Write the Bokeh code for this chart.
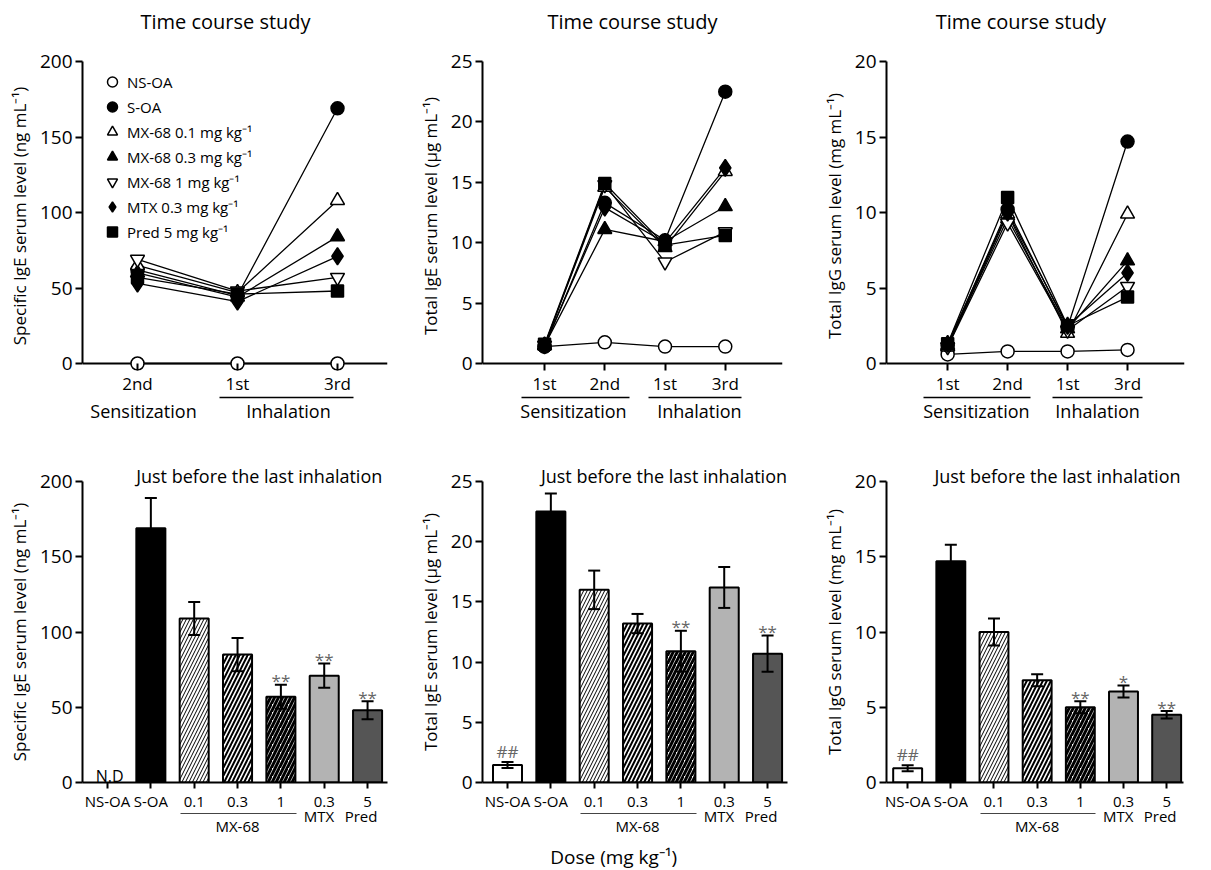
from bokeh.plotting import figure
from bokeh.models import (FixedTicker, Span, Label, Whisker, TeeHead, ColumnDataSource,
                          Range1d, LinearAxis)
from bokeh.layouts import column, row
from bokeh.core.properties import value
from bokeh.embed import file_html
from bokeh.resources import INLINE

FONT = "Open Sans"
NAN = float("nan")

# ---------------- data ----------------
SPEC_STAGES = ["2nd", "1st", "3rd"]
TOTAL_STAGES = ["1st", "2nd", "1st", "3rd"]

GROUP_NAMES = ["NS-OA", "S-OA", "MX-68 0.1 mg kg⁻¹", "MX-68 0.3 mg kg⁻¹",
               "MX-68 1 mg kg⁻¹", "MTX 0.3 mg kg⁻¹", "Pred 5 mg kg⁻¹"]

# Specific IgE (ng/mL) time course
SPEC_NS = [0, 0, 0]
SPEC_S = [62, 45, 169]
SPEC_MX01 = [65, 47, 108]
SPEC_MX03 = [60, 44, 84]
SPEC_MX1 = [69, 48, 57]
SPEC_MTX = [53, 41, 71]
SPEC_PRED = [57, 46, 48]

# Total IgE (ug/mL) time course
IGE_NS = [1.4, 1.75, 1.4, 1.4]
IGE_S = [1.4, 13.3, 10.2, 22.5]
IGE_MX01 = [1.5, 14.6, 9.6, 15.9]
IGE_MX03 = [1.5, 11.1, 10.1, 13.0]
IGE_MX1 = [1.5, 14.8, 8.4, 10.9]
IGE_MTX = [1.5, 12.9, 10.0, 16.2]
IGE_PRED = [1.6, 14.9, 9.8, 10.6]

# Total IgG (mg/mL) time course
IGG_NS = [0.6, 0.8, 0.8, 0.9]
IGG_S = [1.2, 10.2, 2.4, 14.7]
IGG_MX01 = [1.1, 9.9, 2.0, 9.9]
IGG_MX03 = [1.2, 9.6, 2.3, 6.8]
IGG_MX1 = [1.1, 9.3, 2.2, 5.1]
IGG_MTX = [1.3, 10.0, 2.5, 6.0]
IGG_PRED = [1.3, 11.0, 2.5, 4.4]

# Just before the last inhalation (bars)
BAR_LABELS = ["NS-OA", "S-OA", "0.1", "0.3", "1", "0.3", "5"]
SPEC_MEAN = [NAN, 169, 109, 85, 57, 71, 48]
SPEC_SEM = [NAN, 20, 11, 11, 8, 8, 6]
SPEC_SIG = ["", "", "", "", "**", "**", "**"]

IGE_MEAN = [1.45, 22.5, 16.0, 13.2, 10.9, 16.2, 10.7]
IGE_SEM = [0.25, 1.5, 1.6, 0.8, 1.7, 1.7, 1.5]
IGE_SIG = ["##", "", "", "", "**", "", "**"]

IGG_MEAN = [0.95, 14.7, 10.0, 6.8, 5.0, 6.05, 4.5]
IGG_SEM = [0.2, 1.1, 0.9, 0.4, 0.4, 0.4, 0.25]
IGG_SIG = ["##", "", "", "", "**", "*", "**"]

# ---------------- styles ----------------
MARKERS = [("circle", "white", 13), ("circle", "black", 13), ("triangle", "white", 14),
           ("triangle", "black", 14), ("inverted_triangle", "white", 14),
           ("diamond", "black", 17), ("square", "black", 12)]
BAR_FILL = ["white", "black", "white", "white", "white", "#b3b3b3", "#555555"]
BAR_HATCH = [" ", " ", "/", "/", "/", " ", " "]
BAR_HATCH_W = [1, 1, 1, 2, 3, 1, 1]
BAR_HATCH_S = [7, 7, 7, 8, 8, 7, 7]


def style(p):
    p.xgrid.visible = False
    p.ygrid.visible = False
    p.outline_line_color = None
    for ax in p.axis:
        ax.major_label_text_font = FONT
        ax.axis_label_text_font = FONT
        ax.major_label_text_color = "black"
        ax.axis_label_text_color = "black"
        ax.axis_label_text_font_style = "normal"
        ax.axis_line_color = "black"
        ax.axis_line_width = 2
        ax.major_tick_line_color = "black"
        ax.major_tick_line_width = 2
        ax.minor_tick_out = 0
        ax.minor_tick_in = 0


def setup_y(p, top, step, label):
    ax = p.yaxis[0]
    ax.ticker = FixedTicker(ticks=list(range(0, top + 1, step)), minor_ticks=[])
    ax.bounds = (0, top)
    ax.axis_label = label
    ax.major_label_text_font_size = "19px"
    ax.axis_label_text_font_size = "17px"
    ax.axis_label_standoff = 6
    ax.major_label_standoff = 3
    ax.major_tick_out = 7
    ax.major_tick_in = 0


def text_axis(p, place, ticks, labels, size, standoff):
    """An axis without line or ticks, used only to place texts outside the frame."""
    ax = LinearAxis(ticker=FixedTicker(ticks=ticks, minor_ticks=[]),
                    major_label_overrides=dict(zip(ticks, labels)),
                    major_tick_in=0, major_tick_out=0, minor_tick_in=0, minor_tick_out=0,
                    major_label_standoff=standoff, major_label_text_font=FONT,
                    major_label_text_font_size=size, major_label_text_color="black",
                    axis_line_color=None)
    p.add_layout(ax, place)


def line_axis(p, x0, x1, width=1.5, color="black"):
    """An axis with only a bounded line: an underline below the tick labels."""
    ax = LinearAxis(ticker=FixedTicker(ticks=[], minor_ticks=[]), bounds=(x0, x1),
                    major_tick_in=0, major_tick_out=0, minor_tick_in=0, minor_tick_out=0,
                    major_label_standoff=0, axis_line_color=color, axis_line_width=width)
    p.add_layout(ax, "below")


def time_panel(series, stages, top, step, ylabel, fw, bl, br, xr, title_x,
               groups, lines, legend=False):
    span = 302.0
    k = top / span  # data units per pixel
    xs = list(range(len(stages)))
    p = figure(frame_width=fw, frame_height=309, min_border_left=bl, min_border_right=br,
               min_border_top=61, min_border_bottom=70, x_range=Range1d(*xr),
               y_range=Range1d(-7 * k, top), output_backend="svg", toolbar_location=None,
               title=None)
    p.add_layout(Span(location=0, dimension="width", line_color="black", line_width=2,
                      level="underlay"))
    for vals in series:
        p.line(xs, vals, line_color="black", line_width=1.3)
    for i, vals in enumerate(series):
        m, fc, sz = MARKERS[i]
        kw = dict(legend_label=GROUP_NAMES[i]) if legend else {}
        p.scatter(xs, vals, marker=m, size=sz, fill_color=fc, line_color="black",
                  line_width=1.5, **kw)
    style(p)
    setup_y(p, top, step, ylabel)
    xa = p.xaxis[0]
    xa.ticker = FixedTicker(ticks=xs, minor_ticks=[])
    xa.major_label_overrides = {x: s for x, s in zip(xs, stages)}
    xa.axis_line_color = None
    xa.major_tick_in = 7
    xa.major_tick_out = 0
    xa.major_label_standoff = 1
    xa.major_label_text_font_size = "17px"
    text_axis(p, "above", [title_x], ["Time course study"], "20px", 27)
    for x0, x1 in lines:
        line_axis(p, x0, x1)
    text_axis(p, "below", [g[1] for g in groups], [g[0] for g in groups], "18px", 1)
    if legend:
        lg = p.legend[0]
        lg.location = (15, 126)
        lg.glyph_width = 30
        lg.glyph_height = 25
        lg.label_height = 25
        lg.spacing = 0
        lg.padding = 0
        lg.margin = 0
        lg.label_standoff = 0
        lg.label_text_font = FONT
        lg.label_text_font_size = "15px"
        lg.label_text_color = "black"
        lg.border_line_color = None
        lg.background_fill_alpha = 0
    return p


def bar_panel(means, sems, sigs, top, step, ylabel, fw, bl, br, xr, note_x,
              nd=False, dose_x=None):
    span = 301.0
    k = top / span
    xs = list(range(len(BAR_LABELS)))
    upper = [m + s for m, s in zip(means, sems)]
    lower = [m - s for m, s in zip(means, sems)]
    p = figure(frame_width=fw, frame_height=301, min_border_left=bl, min_border_right=br,
               min_border_top=41, min_border_bottom=88, x_range=Range1d(*xr),
               y_range=Range1d(0, top), output_backend="svg", toolbar_location=None,
               title=None)
    src = ColumnDataSource(dict(x=xs, top=means, upper=upper, lower=lower, fill=BAR_FILL,
                                hatch=BAR_HATCH, hw=BAR_HATCH_W, hs=BAR_HATCH_S))
    p.vbar(x="x", top="top", bottom=0, width=0.67, source=src, fill_color="fill",
           line_color="black", line_width=2, hatch_pattern="hatch", hatch_weight="hw",
           hatch_scale="hs", hatch_color="black")
    p.add_layout(Whisker(base="x", upper="upper", lower="lower", source=src,
                         line_color="black", line_width=2, level="annotation",
                         upper_head=TeeHead(size=12, line_width=2, line_color="black"),
                         lower_head=TeeHead(size=12, line_width=2, line_color="black")))
    sig_y = [u + (11 if s.startswith("#") else 4) * k for u, s in zip(upper, sigs)]
    p.text(x=xs, y=sig_y, text=sigs, text_font=value(FONT), text_font_size="17px",
           text_align="center", text_baseline="alphabetic", text_color="#666666")
    style(p)
    setup_y(p, top, step, ylabel)
    xa = p.xaxis[0]
    xa.ticker = FixedTicker(ticks=xs, minor_ticks=[])
    xa.major_label_overrides = {x: s for x, s in zip(xs, BAR_LABELS)}
    xa.major_tick_out = 6
    xa.major_tick_in = 0
    xa.major_label_standoff = 2
    xa.major_label_text_font_size = "15px"
    text_axis(p, "above", [note_x], ["Just before the last inhalation"], "18px", -6)
    line_axis(p, 1.68, 4.36, width=1.2, color="#444444")
    text_axis(p, "below", [4.88, 5.85], ["MTX", "Pred"], "15px", -8)
    text_axis(p, "below", [3], ["MX-68"], "15px", -13)
    if dose_x is not None:
        text_axis(p, "below", [dose_x], ["Dose (mg kg⁻¹)"], "19px", 5)
    if nd:
        p.add_layout(Label(x=0.05, y=7 * k, text="N.D", text_align="center",
                           text_baseline="alphabetic", text_font=FONT,
                           text_font_size="16px", text_color="black"))
    return p


p1 = time_panel([SPEC_NS, SPEC_S, SPEC_MX01, SPEC_MX03, SPEC_MX1, SPEC_MTX, SPEC_PRED],
                SPEC_STAGES, 200, 50, "Specific IgE serum level (ng mL⁻¹)",
                305, 82, 17, (-0.55, 2.5), 0.88,
                [("Sensitization", 0.06), ("Inhalation", 1.51)], [(0.82, 2.16)], legend=True)
p2 = time_panel([IGE_NS, IGE_S, IGE_MX01, IGE_MX03, IGE_MX1, IGE_MTX, IGE_PRED],
                TOTAL_STAGES, 25, 5, "Total IgE serum level (μg mL⁻¹)",
                300, 78, 26, (-1.03, 3.95), 1.46,
                [("Sensitization", 0.48), ("Inhalation", 2.57)],
                [(-0.38, 1.41), (1.72, 3.27)])
p3 = time_panel([IGG_NS, IGG_S, IGG_MX01, IGG_MX03, IGG_MX1, IGG_MTX, IGG_PRED],
                TOTAL_STAGES, 20, 5, "Total IgG serum level (mg mL⁻¹)",
                298, 78, 27, (-1.02, 3.95), 1.22,
                [("Sensitization", 0.48), ("Inhalation", 2.5)],
                [(-0.4, 1.38), (1.75, 3.25)])

p4 = bar_panel(SPEC_MEAN, SPEC_SEM, SPEC_SIG, 200, 50, "Specific IgE serum level (ng mL⁻¹)",
               305, 82, 17, (-0.577, 6.46), 3.5, nd=True)
p5 = bar_panel(IGE_MEAN, IGE_SEM, IGE_SIG, 25, 5, "Total IgE serum level (μg mL⁻¹)",
               305, 78, 21, (-0.577, 6.46), 3.61, dose_x=2.45)
p6 = bar_panel(IGG_MEAN, IGG_SEM, IGG_SIG, 20, 5, "Total IgG serum level (mg mL⁻¹)",
               297, 78, 28, (-0.49, 6.39), 3.47)

layout = column(row(p1, p2, p3), row(p4, p5, p6))
open("out.html", "w").write(file_html(layout, INLINE))
